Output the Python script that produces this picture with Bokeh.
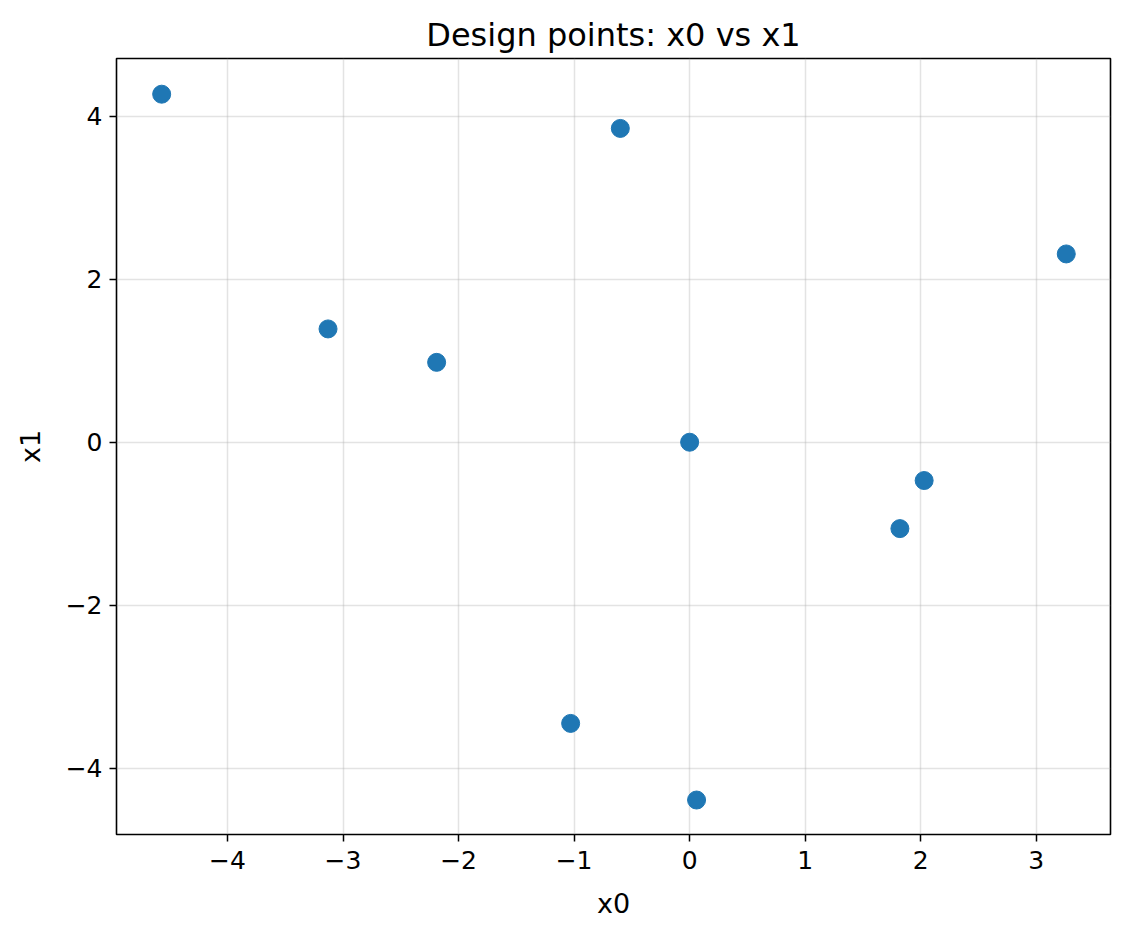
from bokeh.plotting import figure
from bokeh.models import Range1d, FixedTicker, CustomJSTickFormatter
from bokeh.embed import file_html
from bokeh.resources import INLINE

x0 = [-4.57, -0.60, 3.26, -3.13, -2.19, 0.00, 2.03, 1.82, -1.03, 0.06]
x1 = [4.27, 3.85, 2.31, 1.39, 0.98, 0.00, -0.47, -1.06, -3.45, -4.39]
x_ticks = [-4, -3, -2, -1, 0, 1, 2, 3]
y_ticks = [-4, -2, 0, 2, 4]

FONT = "DejaVu Sans"

p = figure(width=1114, height=922, output_backend="svg", toolbar_location=None,
           x_range=Range1d(-4.961, 3.643), y_range=Range1d(-4.813, 4.708),
           title="Design points: x0 vs x1")
p.min_border_left = 116
p.min_border_right = 4
p.min_border_top = 58
p.min_border_bottom = 88

p.scatter(x0, x1, size=18, color="#1f77b4", line_color="#1f77b4")

p.title.align = "center"
p.title.text_font = FONT
p.title.text_font_size = "32px"
p.title.text_font_style = "normal"
p.title.text_color = "black"

fmt = CustomJSTickFormatter(code="return tick.toString().replace('-', '\u2212');")
for ax, ticks, label in [(p.xaxis[0], x_ticks, "x0"), (p.yaxis[0], y_ticks, "x1")]:
    ax.ticker = FixedTicker(ticks=ticks)
    ax.formatter = fmt
    ax.axis_label = label
    ax.axis_label_text_font = FONT
    ax.axis_label_text_font_size = "27px"
    ax.axis_label_text_font_style = "normal"
    ax.axis_label_text_color = "black"
    ax.major_label_text_font = FONT
    ax.major_label_text_font_size = "25px"
    ax.major_label_text_color = "black"
    ax.axis_line_color = None
    ax.major_tick_line_color = "black"
    ax.major_tick_line_width = 1.5
    ax.major_tick_out = 7
    ax.major_tick_in = 0
    ax.minor_tick_line_color = None

p.xaxis[0].major_label_standoff = 9
p.yaxis[0].major_label_standoff = 7
p.xaxis[0].axis_label_standoff = 16
p.yaxis[0].axis_label_standoff = 17
p.yaxis[0].major_label_orientation = "horizontal"

p.grid.grid_line_color = "#b0b0b0"
p.grid.grid_line_alpha = 0.35
p.grid.grid_line_width = 1.5

p.outline_line_color = "black"
p.outline_line_width = 1.6
p.outline_line_alpha = 1.0
p.background_fill_color = "white"
p.border_fill_color = "white"

open("out.html", "w").write(file_html(p, INLINE))
